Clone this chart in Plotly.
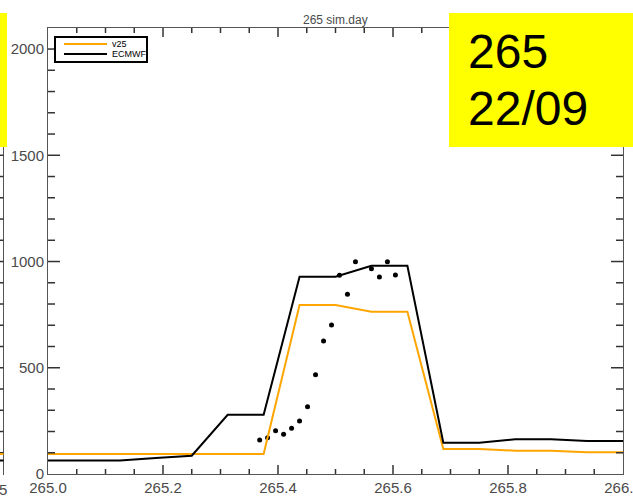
import plotly.graph_objects as go

# ---- data ----
model_day = [265.0, 265.0625, 265.125, 265.1875, 265.25, 265.3125, 265.375, 265.4375,
             265.5, 265.5625, 265.625, 265.6875, 265.75, 265.8125, 265.875, 265.9375, 266.0]
v25 = [94, 94, 94, 94, 94, 94, 94, 795, 795, 764, 764, 118, 118, 110, 110, 102, 102]
ecmwf = [63, 63, 63, 75, 86, 279, 279, 928, 928, 980, 980, 147, 147, 163, 163, 155, 155]

obs_day = [265.3681, 265.3819, 265.3958, 265.4097, 265.4236, 265.4375, 265.4514, 265.4653,
           265.4792, 265.4931, 265.5069, 265.5208, 265.5347, 265.5625, 265.5764, 265.5903, 265.6042]
obs_val = [160, 171, 204, 187, 215, 249, 317, 467, 626, 701, 935, 846, 999, 966, 927, 999, 936]

x_tick_step = 0.2
x_minor_step = 0.05
y_tick_step = 500
y_minor_step = 100

W, H = 633, 504
L, R, T, B = 48, 623, 28, 474
YMAX = 2099


def px(x):
    return (x - L) / (R - L)


def py(y):
    return (B - y) / (B - T)


fig = go.Figure()
fig.add_trace(go.Scatter(x=obs_day, y=obs_val, mode="markers",
                         marker=dict(color="black", size=5), showlegend=False))
fig.add_trace(go.Scatter(x=model_day, y=v25, mode="lines", name="v25",
                         line=dict(color="#FFA500", width=2), showlegend=False))
fig.add_trace(go.Scatter(x=model_day, y=ecmwf, mode="lines", name="ECMWF",
                         line=dict(color="black", width=2), showlegend=False))

axis_col = "#555555"
tick_col = "#333333"
tick_font = dict(family="Liberation Sans, Arial, sans-serif", size=15, color="#4a4a4a")

fig.update_xaxes(range=[265.0, 266.0], tickmode="linear", tick0=265.0, dtick=x_tick_step,
                 tickformat=".1f", ticklabeloverflow="allow",
                 showgrid=False, zeroline=False, showline=True, linecolor=axis_col, linewidth=1,
                 mirror=True, ticks="", tickfont=tick_font, automargin=False)
fig.update_yaxes(range=[0, YMAX], tickmode="linear", tick0=0, dtick=y_tick_step,
                 ticklabeloverflow="allow",
                 showgrid=False, zeroline=False, showline=True, linecolor=axis_col, linewidth=1,
                 mirror=True, ticks="", tickfont=tick_font, automargin=False)

shapes = []
annotations = []

# inside ticks on all four sides (major and minor)
k = 1
while 265.0 + k * x_minor_step < 266.0 - 1e-9:
    xv = 265.0 + k * x_minor_step
    ln = 9 if k % 4 == 0 else 5
    for base, sgn in ((0, 1), (1, -1)):
        shapes.append(dict(type="line", xref="x", yref="paper", x0=xv, x1=xv,
                           y0=base, y1=base + sgn * ln / (B - T),
                           line=dict(color=tick_col, width=1.5)))
    k += 1
k = 1
while k * y_minor_step < YMAX:
    yv = k * y_minor_step
    ln = 12 if k % 5 == 0 else 7
    for base, sgn in ((0, 1), (1, -1)):
        shapes.append(dict(type="line", xref="paper", yref="y", x0=base,
                           x1=base + sgn * ln / (R - L), y0=yv, y1=yv,
                           line=dict(color=tick_col, width=1.5)))
    k += 1

# top-right yellow box
shapes.append(dict(type="rect", xref="paper", yref="paper", x0=px(449), x1=px(640),
                   y0=py(147), y1=py(13), fillcolor="#FFFF00", line=dict(width=0), layer="above"))
annotations.append(dict(xref="paper", yref="paper", x=px(466), y=py(51), text="265",
                        showarrow=False, xanchor="left", yanchor="middle",
                        font=dict(family="Liberation Sans, Arial", size=48, color="black")))
annotations.append(dict(xref="paper", yref="paper", x=px(466), y=py(109), text="22/09",
                        showarrow=False, xanchor="left", yanchor="middle",
                        font=dict(family="Liberation Sans, Arial", size=48, color="black")))

# title
annotations.append(dict(xref="paper", yref="paper", x=0.5, y=py(20), text="265 sim.day",
                        showarrow=False, xanchor="center", yanchor="middle",
                        font=dict(family="Liberation Sans, Arial", size=12, color="#4a4a4a")))

# legend box
shapes.append(dict(type="rect", xref="paper", yref="paper", x0=px(55), x1=px(147),
                   y0=py(62), y1=py(37), fillcolor="white", line=dict(color="black", width=2),
                   layer="above"))
shapes.append(dict(type="line", xref="paper", yref="paper", x0=px(64), x1=px(107),
                   y0=py(44), y1=py(44), line=dict(color="#FFA500", width=2), layer="above"))
shapes.append(dict(type="line", xref="paper", yref="paper", x0=px(64), x1=px(107),
                   y0=py(54), y1=py(54), line=dict(color="black", width=2), layer="above"))
annotations.append(dict(xref="paper", yref="paper", x=px(110), y=py(44), text="v25",
                        showarrow=False, xanchor="left", yanchor="middle",
                        font=dict(family="Liberation Sans, Arial", size=9, color="black")))
annotations.append(dict(xref="paper", yref="paper", x=px(110), y=py(54), text="ECMWF",
                        showarrow=False, xanchor="left", yanchor="middle",
                        font=dict(family="Liberation Sans, Arial", size=9, color="black")))

# neighbouring panel remnant at left edge
shapes.append(dict(type="rect", xref="paper", yref="paper", x0=px(-5), x1=px(7),
                   y0=py(147), y1=py(13), fillcolor="#FFFF00", line=dict(width=0), layer="above"))
shapes.append(dict(type="line", xref="paper", yref="paper", x0=px(3.5), x1=px(3.5),
                   y0=py(147), y1=py(475), line=dict(color=axis_col, width=1), layer="above"))
for v in range(100, 1600, 100):
    yy = B - v * (B - T) / YMAX
    if yy > 147:
        shapes.append(dict(type="line", xref="paper", yref="paper", x0=px(0), x1=px(3.5),
                           y0=py(yy), y1=py(yy), line=dict(color=tick_col, width=1.5),
                           layer="above"))
shapes.append(dict(type="line", xref="paper", yref="paper", x0=px(-2), x1=px(3.5),
                   y0=py(454), y1=py(454), line=dict(color="#FFA500", width=2), layer="above"))
shapes.append(dict(type="line", xref="paper", yref="paper", x0=px(-2), x1=px(3.5),
                   y0=py(460.5), y1=py(460.5), line=dict(color="black", width=2), layer="above"))
annotations.append(dict(xref="paper", yref="paper", x=px(9), y=py(489), text="5",
                        showarrow=False, xanchor="right", yanchor="middle",
                        font=tick_font))

fig.update_layout(width=W, height=H, margin=dict(l=L, r=W - R, t=T, b=H - B),
                  paper_bgcolor="white", plot_bgcolor="white",
                  shapes=shapes, annotations=annotations, showlegend=False)

fig.write_html("out.html")
